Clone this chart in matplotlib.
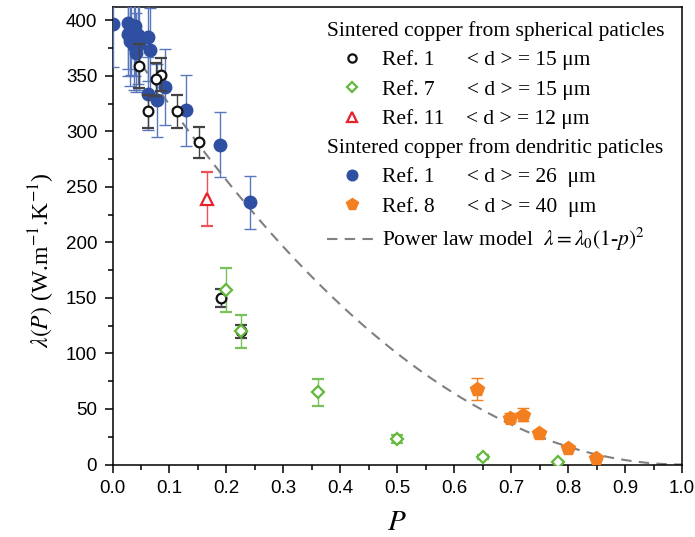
import numpy as np
import matplotlib
matplotlib.use("Agg")
import matplotlib.pyplot as plt
from matplotlib.lines import Line2D
from matplotlib.ticker import MultipleLocator, FormatStrFormatter

plt.rcParams['mathtext.fontset'] = 'stix'

# spherical particles, Ref. 1 (open black circles)
sph1_p = [0.046, 0.085, 0.077, 0.063, 0.114, 0.151, 0.190, 0.225]
sph1_k = [359, 351, 347, 318, 318, 290, 150, 120]
sph1_err = [20, 15, 15, 15, 15, 14, 8, 6]

# spherical particles, Ref. 7 (open green diamonds)
sph7_p = [0.200, 0.225, 0.360, 0.499, 0.651, 0.783]
sph7_k = [157, 120, 65, 23, 7, 2]
sph7_err = [20, 15, 12, 4, 2, 1]

# spherical particles, Ref. 11 (open red triangle)
sph11_p = [0.166]
sph11_k = [239]
sph11_err = [24]

# dendritic particles, Ref. 1 (filled blue circles)
den1_p = [0.000, 0.028, 0.040, 0.032, 0.028, 0.044, 0.031, 0.046, 0.062, 0.065,
          0.042, 0.037, 0.063, 0.078, 0.093, 0.129, 0.188, 0.241]
den1_k = [397, 398, 395, 391, 388, 387, 381, 379, 385, 373,
          371, 377, 334, 328, 340, 319, 288, 236]
den1_err = [39, 42, 45, 40, 38, 44, 40, 42, 40, 38,
            36, 40, 33, 33, 34, 32, 29, 24]

# dendritic particles, Ref. 8 (filled orange pentagons)
den8_p = [0.640, 0.698, 0.720, 0.749, 0.799, 0.849]
den8_k = [68, 42, 45, 28, 15, 6]
den8_err = [10, 4, 6, 3, 2, 1]

lam0 = 400

fig = plt.figure(figsize=(6.95, 5.37), dpi=100)
ax = fig.add_axes([0.1619, 0.135, 0.8194, 0.852])

p_model = np.linspace(0, 1, 300)
ax.plot(p_model, lam0 * (1 - p_model) ** 2, color='#808080', lw=1.5,
        dashes=(5, 3.5), zorder=1)

ax.errorbar(den1_p, den1_k, yerr=den1_err, fmt='o', ms=9, color='#2f4fa2',
            ecolor='#5a76bc', elinewidth=1, capsize=4, zorder=3)
ax.errorbar(sph1_p, sph1_k, yerr=sph1_err, fmt='o', ms=7, mfc='white',
            mec='#111111', mew=1.6, ecolor='#444444', elinewidth=1, capsize=4, zorder=4)
ax.errorbar(sph7_p, sph7_k, yerr=sph7_err, fmt='D', ms=6.5, mfc='white',
            mec='#62b83a', mew=1.6, ecolor='#79c25a', elinewidth=1, capsize=4, zorder=4)
ax.errorbar(sph11_p, sph11_k, yerr=sph11_err, fmt='^', ms=8, mfc='white',
            mec='#e8202a', mew=1.6, ecolor='#f0505a', elinewidth=1, capsize=4, zorder=4)
ax.errorbar(den8_p, den8_k, yerr=den8_err, fmt='p', ms=10, color='#f47f20',
            ecolor='#f47f20', elinewidth=1, capsize=4, zorder=4)

ax.set_xlim(0, 1.0)
ax.set_ylim(0, 412)
ax.xaxis.set_major_locator(MultipleLocator(0.1))
ax.xaxis.set_minor_locator(MultipleLocator(0.05))
ax.xaxis.set_major_formatter(FormatStrFormatter('%.1f'))
ax.yaxis.set_major_locator(MultipleLocator(50))
ax.yaxis.set_minor_locator(MultipleLocator(25))
ax.tick_params(which='major', direction='out', length=6, width=1.1,
               labelsize=13.5, pad=5)
ax.tick_params(which='minor', direction='out', length=3.5, width=1.1)
for lab in ax.get_xticklabels() + ax.get_yticklabels():
    lab.set_fontfamily('Liberation Sans')
for s in ax.spines.values():
    s.set_linewidth(1.1)

ax.set_xlabel('$P$', fontsize=21, labelpad=8)
ax.set_ylabel(r'$\lambda(P)$ (W.m$^{-1}$.K$^{-1}$)', fontsize=17,
              fontfamily='Liberation Serif')
ax.yaxis.set_label_coords(-0.098, 0.447)

leg_font = {'family': 'Liberation Serif', 'size': 15.5}
leg_kw = dict(loc='upper left', frameon=False, prop=leg_font,
              title_fontproperties=leg_font, alignment='left',
              handlelength=2.33, handletextpad=0.23, labelspacing=0.44,
              borderpad=0, borderaxespad=0, markerscale=0.85)

h_sph = [
    Line2D([], [], ls='none', marker='o', ms=7, mfc='white', mec='#111111', mew=1.6),
    Line2D([], [], ls='none', marker='D', ms=6.5, mfc='white', mec='#62b83a', mew=1.6),
    Line2D([], [], ls='none', marker='^', ms=8, mfc='white', mec='#e8202a', mew=1.6),
]
l_sph = ['Ref. 1      < d > = 15 \u03bcm',
         'Ref. 7      < d > = 15 \u03bcm',
         'Ref. 11    < d > = 12 \u03bcm']
leg1 = ax.legend(h_sph, l_sph, title='Sintered copper from spherical paticles',
                 bbox_to_anchor=(0.376, 0.970), **leg_kw)
ax.add_artist(leg1)

h_den = [
    Line2D([], [], ls='none', marker='o', ms=9, color='#2f4fa2'),
    Line2D([], [], ls='none', marker='p', ms=10, color='#f47f20'),
    Line2D([], [], color='#808080', lw=1.5, dashes=(5, 3.5)),
]
l_den = ['Ref. 1      < d > = 26  \u03bcm',
         'Ref. 8      < d > = 40  \u03bcm',
         r'Power law model  $\lambda=\lambda_0(1$-$p)^2$']
leg2 = ax.legend(h_den, l_den, title='Sintered copper from dendritic paticles',
                 bbox_to_anchor=(0.376, 0.714), **leg_kw)

fig.savefig('out.png', dpi=100)
